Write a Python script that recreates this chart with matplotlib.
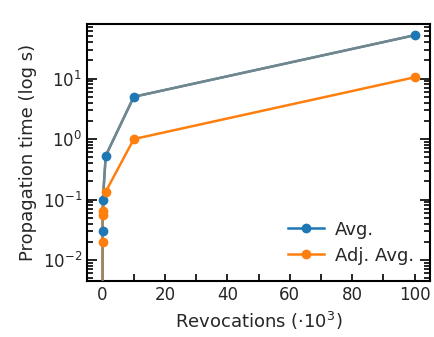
import matplotlib
matplotlib.use("Agg")
import matplotlib.pyplot as plt
from matplotlib.ticker import MultipleLocator, LogLocator, NullFormatter

plt.rcParams['font.family'] = ['DejaVu Sans']
plt.rcParams['mathtext.fontset'] = 'dejavusans'
plt.rcParams['text.color'] = '#262626'
plt.rcParams['axes.labelcolor'] = '#262626'
plt.rcParams['xtick.labelcolor'] = '#262626'
plt.rcParams['ytick.labelcolor'] = '#262626'

revocations = [0.001, 0.01, 0.1, 1, 10, 100]
avg = [0.001, 0.03, 0.1, 0.53, 5.0, 52.0]
adj_x = [0.001, 0.01, 0.05, 0.1, 1, 10, 100]
adj_avg = [0.001, 0.02, 0.055, 0.065, 0.135, 1.0, 10.5]

blue = '#1f77b4'
orange = '#ff7f0e'
grey = '#84897f'

fig = plt.figure(figsize=(4.35, 3.37), dpi=100)
ax = fig.add_axes([0.2, 0.166, 0.789, 0.763])

ax.plot(revocations, avg, color=blue, lw=1.8, zorder=2)
ax.plot(adj_x, adj_avg, color=orange, lw=1.8, zorder=2)
ax.plot(revocations, avg, color=grey, lw=1.7, alpha=0.85, zorder=3)
ax.plot(revocations, avg, ls='none', marker='o', ms=6, color=blue, zorder=4)
ax.plot(adj_x, adj_avg, ls='none', marker='o', ms=6, color=orange, zorder=4)

ax.plot([], [], color=blue, lw=1.8, marker='o', ms=6, label='Avg.')
ax.plot([], [], color=orange, lw=1.8, marker='o', ms=6, label='Adj. Avg.')

ax.set_yscale('log')
ax.set_xlim(-5, 105)
ax.set_ylim(0.0045, 80)
ax.xaxis.set_major_locator(MultipleLocator(20))
ax.xaxis.set_minor_locator(MultipleLocator(10))
ax.yaxis.set_major_locator(LogLocator(base=10, numticks=10))
ax.yaxis.set_minor_locator(LogLocator(base=10, subs=range(2, 10), numticks=20))
ax.yaxis.set_minor_formatter(NullFormatter())

ax.tick_params(which='both', direction='in', top=False, right=True, labelsize=12, width=1.2)
ax.tick_params(which='major', length=7)
ax.tick_params(which='minor', length=4)
ax.tick_params(axis='x', which='both', length=5)
for s in ax.spines.values():
    s.set_linewidth(1.5)

ax.set_xlabel(r'Revocations $(\cdot 10^3)$', fontsize=13)
ax.set_ylabel('Propagation time (log s)', fontsize=13)

ax.legend(loc='lower right', frameon=False, fontsize=13, handlelength=2.0,
          handletextpad=0.6, borderaxespad=0.5, labelspacing=0.45)

fig.savefig('out.png', dpi=100)
